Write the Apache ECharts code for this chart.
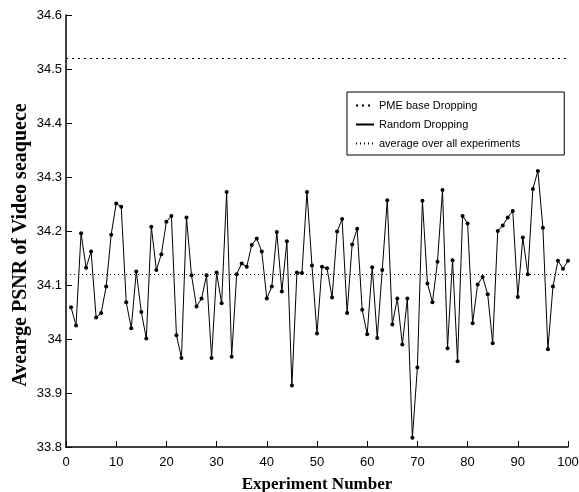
<!DOCTYPE html>
<html>
<head>
<meta charset="utf-8">
<script src="https://cdn.jsdelivr.net/npm/echarts@6/dist/echarts.min.js"></script>
<style>
  html, body { margin: 0; padding: 0; background: #fff; }
  #chart { width: 579px; height: 492px; }
</style>
</head>
<body>
<div id="chart"></div>
<script>
// experiment numbers 1..100 and PSNR
var experiments = [];
for (var i = 1; i <= 100; i++) experiments.push(i);

var randomPsnr = [
  34.059, 34.025, 34.196, 34.132, 34.162, 34.040, 34.048, 34.097, 34.193, 34.251,
  34.245, 34.068, 34.020, 34.125, 34.050, 34.001, 34.208, 34.128, 34.157, 34.217,
  34.228, 34.007, 33.965, 34.225, 34.118, 34.060, 34.075, 34.118, 33.965, 34.123,
  34.066, 34.272, 33.967, 34.120, 34.140, 34.134, 34.174, 34.186, 34.162, 34.075,
  34.097, 34.198, 34.088, 34.181, 33.914, 34.123, 34.122, 34.272, 34.136, 34.010,
  34.134, 34.131, 34.077, 34.199, 34.222, 34.048, 34.175, 34.204, 34.054, 34.009,
  34.133, 34.002, 34.128, 34.257, 34.027, 34.075, 33.990, 34.075, 33.817, 33.947,
  34.256, 34.103, 34.068, 34.143, 34.276, 33.983, 34.146, 33.959, 34.228, 34.214,
  34.029, 34.101, 34.115, 34.083, 33.992, 34.200, 34.210, 34.225, 34.237, 34.078,
  34.188, 34.120, 34.278, 34.311, 34.206, 33.981, 34.097, 34.145, 34.130, 34.145
];

var pmeLevel = 34.52;      // PME base Dropping
var averageLevel = 34.12;  // average over all experiments

var seriesNames = ['PME base Dropping', 'Random Dropping', 'average over all experiments'];

var points = experiments.map(function (x, k) { return [x, randomPsnr[k]]; });

var titleFont = { fontFamily: 'Liberation Serif, Times New Roman', fontWeight: 'bold', color: '#000' };

option = {
    backgroundColor: '#fff',
    animation: false,
    grid: { left: 66, right: 11, top: 15, bottom: 45, outerBoundsMode: 'none', containLabel: false },
    legend: {
        orient: 'vertical',
        left: 347,
        top: 92,
        itemWidth: 18,
        itemHeight: 10,
        itemGap: 8,
        padding: [8, 44, 6, 8],
        borderColor: '#000',
        borderWidth: 1,
        backgroundColor: '#fff',
        itemStyle: { opacity: 0 },
        textStyle: { fontFamily: 'Liberation Sans, Arial', fontSize: 11, color: '#000' },
        data: seriesNames
    },
    xAxis: {
        type: 'value',
        min: 0,
        max: 100,
        interval: 10,
        name: 'Experiment Number',
        nameLocation: 'middle',
        nameGap: 29,
        nameMoveOverlap: false,
        nameTextStyle: Object.assign({ fontSize: 17 }, titleFont),
        axisLine: { show: true, lineStyle: { color: '#000', width: 1.5 } },
        axisTick: { inside: true, length: 6, lineStyle: { color: '#000' } },
        axisLabel: { margin: 9, fontFamily: 'Liberation Sans Narrow, Liberation Sans, Arial', fontSize: 13, color: '#000' },
        splitLine: { show: false }
    },
    yAxis: {
        type: 'value',
        min: 33.8,
        max: 34.6,
        interval: 0.1,
        name: 'Avearge PSNR of Video seaquece',
        nameLocation: 'middle',
        nameGap: 35,
        nameMoveOverlap: false,
        nameTextStyle: Object.assign({ fontSize: 20, padding: [0, 0, 0, -28] }, titleFont),
        axisLine: { show: true, lineStyle: { color: '#000', width: 1.5 } },
        axisTick: { show: true, inside: true, length: 6, lineStyle: { color: '#000' } },
        axisLabel: { margin: 4, fontFamily: 'Liberation Sans Narrow, Liberation Sans, Arial', fontSize: 13, color: '#000' },
        splitLine: { show: false }
    },
    series: [
        {
            name: seriesNames[0],
            type: 'line',
            data: [],
            symbol: 'none',
            lineStyle: { color: '#000', width: 1, type: [2, 4] },
            itemStyle: { color: '#000' },
            markLine: {
                silent: true,
                symbol: 'none',
                label: { show: false },
                lineStyle: { color: '#000', width: 1, type: [2, 4] },
                data: [{ yAxis: pmeLevel }]
            }
        },
        {
            name: seriesNames[1],
            type: 'line',
            data: points,
            symbol: 'circle',
            symbolSize: 4,
            lineStyle: { color: '#000', width: 1 },
            itemStyle: { color: '#000' }
        },
        {
            name: seriesNames[2],
            type: 'line',
            data: [],
            symbol: 'none',
            lineStyle: { color: '#000', width: 1, type: [1, 3] },
            itemStyle: { color: '#000' },
            markLine: {
                silent: true,
                symbol: 'none',
                label: { show: false },
                lineStyle: { color: '#000', width: 1, type: [1, 3] },
                data: [{ yAxis: averageLevel }]
            }
        }
    ]
};
var myChart = echarts.init(document.getElementById("chart"));
myChart.setOption(option, true);
</script>
</body>
</html>
